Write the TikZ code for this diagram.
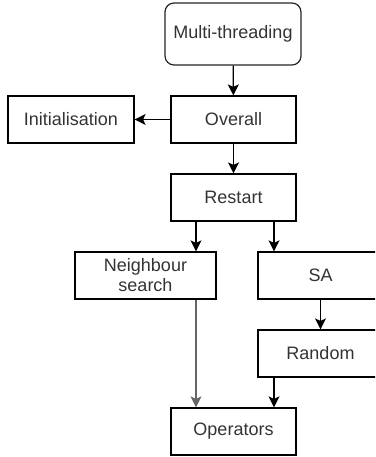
\documentclass[tikz,border=0pt]{standalone}
\usepackage{fontspec}
\setmainfont{Liberation Sans}
\usetikzlibrary{arrows.meta}
\begin{document}
\begin{tikzpicture}[x=1pt,y=-1pt,
  box/.style={draw=black, line width=1.2pt, minimum width=125pt, minimum height=47pt, inner sep=0pt, align=center, font=\fontsize{18}{21}\selectfont, text=black!80},
  rbox/.style={box, minimum width=136pt, minimum height=62pt, rounded corners=9pt, draw=black!85},
  conn/.style={line width=1.2pt, -{Stealth[length=11pt,width=11pt,inset=2.5pt]}}]
\useasboundingbox[clip] (0,0) rectangle (375,457);
\node[rbox] (mt) at (233,34) {Multi-threading};
\node[box] (ov) at (233.5,119.5) {Overall};
\node[box, minimum width=126pt] (in) at (71,119.5) {Initialisation};
\node[box] (re) at (233.5,197.5) {Restart};
\node[box, minimum width=141pt] (nb) at (145.5,275.5) {Neighbour\\[-1pt]search};
\node[box] (sa) at (320.5,275.5) {SA};
\node[box] (ra) at (320.5,353.5) {Random};
\node[box] (op) at (233.5,431.5) {Operators};
\draw[conn] (mt) -- (ov);
\draw[conn] (ov) -- (in);
\draw[conn] (ov) -- (re);
\draw[conn] (re.south -| 196,0) -- (nb.north -| 196,0);
\draw[conn] (re.south -| 274,0) -- (sa.north -| 274,0);
\draw[conn] (sa) -- (ra);
\draw[conn, draw=black!60] (nb.south -| 196,0) -- (op.north -| 196,0);
\draw[conn] (ra.south -| 274,0) -- (op.north -| 274,0);
\end{tikzpicture}
\end{document}
